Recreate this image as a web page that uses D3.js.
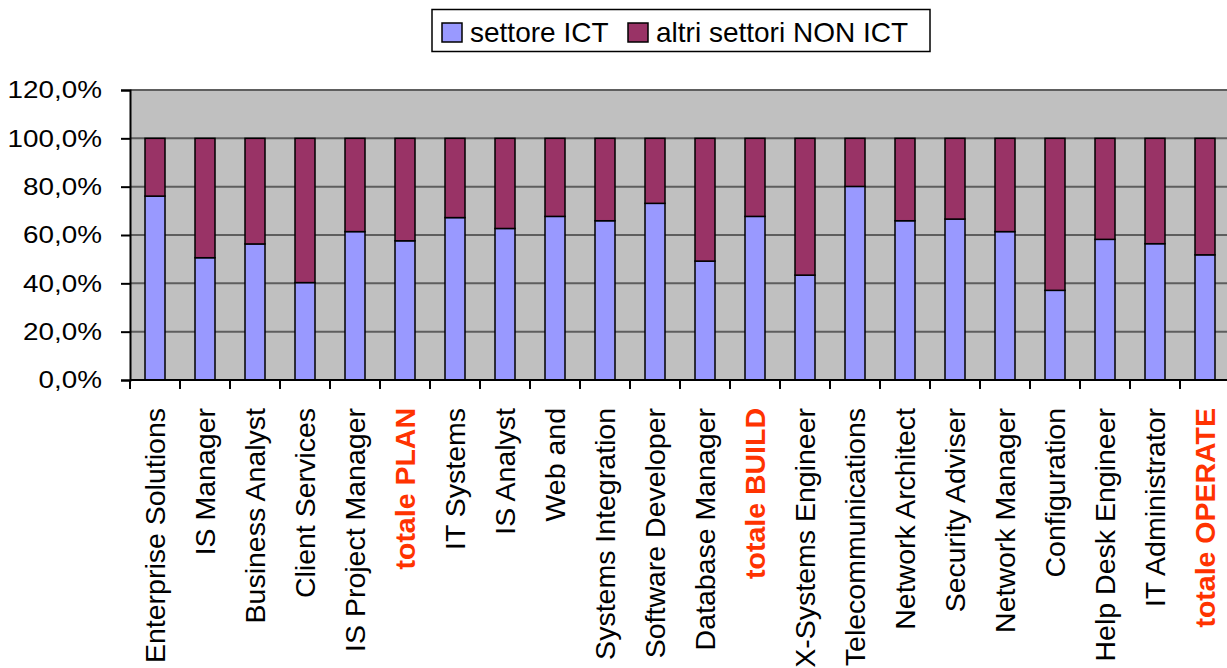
<!DOCTYPE html>
<html><head><meta charset="utf-8">
<script src="https://cdn.jsdelivr.net/npm/d3@7"></script>
<style>html,body{margin:0;padding:0;background:#fff;overflow:hidden}</style>
</head><body>
<svg id="c" width="1227" height="668"></svg>
<script>
const categories = ["Enterprise Solutions","IS Manager","Business Analyst","Client Services","IS Project Manager","totale PLAN","IT Systems","IS Analyst","Web and","Systems Integration","Software Developer","Database Manager","totale BUILD","X-Systems Engineer","Telecommunications","Network Architect","Security Adviser","Network Manager","Configuration","Help Desk Engineer","IT Administrator","totale OPERATE"];
const ictValues = [76.1,50.6,56.3,40.3,61.4,57.6,67.2,62.7,67.7,65.9,73.1,49.2,67.7,43.4,80.1,65.9,66.6,61.4,37.1,58.2,56.4,51.8];
const nonIctValues = ictValues.map(v => +(100 - v).toFixed(1));
const seriesNames = ["settore ICT","altri settori NON ICT"];
const yTicks = [0,20,40,60,80,100,120];
const totals = ["totale PLAN","totale BUILD","totale OPERATE"];

const colors = ["#9999ff","#993366"];
const svg = d3.select("#c");
const pLeft = 130, pRight = 1230, pTop = 90, pBottom = 380;

const x = d3.scaleBand().domain(categories).range([pLeft, pRight]).paddingInner(0.6).paddingOuter(0.3);
const y = d3.scaleLinear().domain([0,120]).range([pBottom, pTop]);
const step = x.step();

// plot background
svg.append("rect").attr("x", pLeft).attr("y", pTop).attr("width", pRight-pLeft).attr("height", pBottom-pTop).attr("fill","#c0c0c0");
// gridlines
svg.append("g").selectAll("line").data(yTicks.filter(d=>d>0)).join("line")
  .attr("x1", pLeft).attr("x2", pRight).attr("y1", d=>y(d)).attr("y2", d=>y(d))
  .attr("stroke","#5e5e5e").attr("stroke-width",2);

// stacked data
const rows = categories.map((c,i)=>({cat:c, ict:ictValues[i], non:nonIctValues[i]}));
const stack = d3.stack().keys(["ict","non"])(rows);
svg.append("g").selectAll("g").data(stack).join("g")
  .attr("fill",(d,i)=>colors[i])
  .selectAll("rect").data(d=>d).join("rect")
  .attr("x", d=>x(d.data.cat)).attr("width", x.bandwidth())
  .attr("y", d=>y(d[1])).attr("height", d=>y(d[0])-y(d[1]))
  .attr("stroke","#000").attr("stroke-width",1.5);

// y axis
const ya = svg.append("g").attr("transform",`translate(${pLeft},0)`)
  .call(d3.axisLeft(y).tickValues(yTicks).tickSize(9).tickFormat(d=>d.toFixed(1).replace(".",",")+"%"));
ya.select(".domain").attr("stroke","#000").attr("stroke-width",2);
ya.selectAll(".tick line").attr("stroke","#000").attr("stroke-width",2);
ya.selectAll(".tick text").attr("x",0).attr("transform","translate(-28,0) scale(1.16,1)")
  .attr("font-family","'Liberation Sans', Arial, sans-serif").attr("font-size",24).attr("fill","#000");

// x axis line and ticks at band boundaries
svg.append("line").attr("x1",pLeft).attr("x2",pRight).attr("y1",pBottom).attr("y2",pBottom).attr("stroke","#000").attr("stroke-width",2);
svg.append("g").selectAll("line").data(categories).join("line")
  .attr("x1", d=>x(d)-(step-x.bandwidth())/2).attr("x2", d=>x(d)-(step-x.bandwidth())/2)
  .attr("y1", pBottom).attr("y2", pBottom+9).attr("stroke","#000").attr("stroke-width",2);

// x labels
svg.append("g").selectAll("text").data(categories).join("text")
  .attr("transform", d=>`translate(${x(d)+x.bandwidth()/2+10},408) rotate(-90)`)
  .attr("text-anchor","end")
  .attr("font-family","'Liberation Sans', Arial, sans-serif").attr("font-size",28.5)
  .attr("font-weight", d=>totals.includes(d)?"bold":"normal")
  .attr("fill", d=>totals.includes(d)?"#ff3300":"#000")
  .text(d=>d);

// legend
const lg = svg.append("g");
lg.append("rect").attr("x",432).attr("y",9.5).attr("width",498).attr("height",42).attr("fill","#fff").attr("stroke","#000").attr("stroke-width",1.5);
const lx = [442, 628];
seriesNames.forEach((n,i)=>{
  lg.append("rect").attr("x",lx[i]).attr("y",23).attr("width",20).attr("height",19).attr("fill",colors[i]).attr("stroke","#000").attr("stroke-width",1.5);
  lg.append("text").attr("x",lx[i]+28).attr("y",42).attr("font-family","'Liberation Sans', Arial, sans-serif").attr("font-size",28).attr("fill","#000").text(n);
});
</script>
</body></html>
